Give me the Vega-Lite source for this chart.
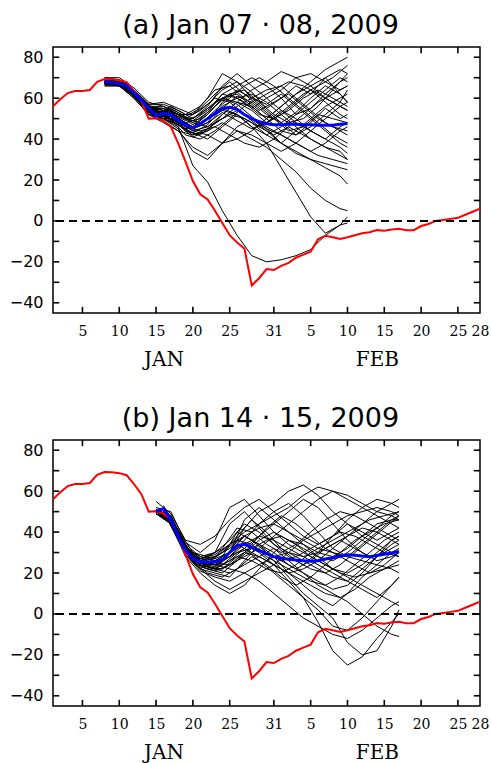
{
"$schema": "https://vega.github.io/schema/vega-lite/v6.json",
"padding": {"left": 8, "top": 11, "right": 4, "bottom": 4},
"spacing": 34,
"config": {
  "view": {"stroke": "black", "strokeWidth": 1.5},
  "axis": {"grid": false, "domain": false, "labelColor": "black"}
},
"datasets": {
"xt": [{"t":5},{"t":10},{"t":15},{"t":20},{"t":25},{"t":31},{"t":36},{"t":41},{"t":46},{"t":51},{"t":56}],
"yt": [{"t":-40},{"t":-30},{"t":-20},{"t":-10},{"t":0},{"t":10},{"t":20},{"t":30},{"t":40},{"t":50},{"t":60},{"t":70},{"t":80}],
"obs": [{"d":1,"v":56},{"d":2,"v":59.5},{"d":3,"v":62.5},{"d":4,"v":63.5},{"d":5,"v":63.5},{"d":6,"v":64},{"d":7,"v":68},{"d":8,"v":69.3},{"d":9,"v":69.2},{"d":10,"v":68.8},{"d":11,"v":67.8},{"d":12,"v":63.5},{"d":13,"v":58.5},{"d":14,"v":50},{"d":15,"v":50.2},{"d":16,"v":49},{"d":17,"v":46},{"d":18,"v":38},{"d":19,"v":29},{"d":20,"v":19.5},{"d":21,"v":13},{"d":22,"v":10.5},{"d":23,"v":5},{"d":24,"v":-1},{"d":25,"v":-7},{"d":26,"v":-10.5},{"d":27,"v":-13.5},{"d":28,"v":-31.5},{"d":29,"v":-28},{"d":30,"v":-23.5},{"d":31,"v":-24},{"d":32,"v":-22},{"d":33,"v":-20.5},{"d":34,"v":-18},{"d":35,"v":-16.5},{"d":36,"v":-15},{"d":37,"v":-9},{"d":38,"v":-7.3},{"d":39,"v":-8},{"d":40,"v":-8.8},{"d":41,"v":-8},{"d":42,"v":-7},{"d":43,"v":-6},{"d":44,"v":-5.5},{"d":45,"v":-4.5},{"d":46,"v":-4.8},{"d":47,"v":-4.2},{"d":48,"v":-3.8},{"d":49,"v":-4.5},{"d":50,"v":-4.5},{"d":51,"v":-2.5},{"d":52,"v":-1.5},{"d":53,"v":0},{"d":54,"v":0.5},{"d":55,"v":1},{"d":56,"v":1.5},{"d":57,"v":3},{"d":58,"v":4.5},{"d":59,"v":6}],
"meanA": [{"d":8,"v":68},{"d":9,"v":67.5},{"d":10,"v":67.2},{"d":11,"v":66},{"d":12,"v":62.5},{"d":13,"v":59},{"d":14,"v":55},{"d":15,"v":51.5},{"d":16,"v":52.5},{"d":17,"v":52},{"d":18,"v":49},{"d":19,"v":47},{"d":20,"v":45.5},{"d":21,"v":47.5},{"d":22,"v":50},{"d":23,"v":52.5},{"d":24,"v":55},{"d":25,"v":55.5},{"d":26,"v":54.5},{"d":27,"v":52},{"d":28,"v":50},{"d":29,"v":48.5},{"d":30,"v":47.5},{"d":31,"v":47},{"d":32,"v":47},{"d":33,"v":47.3},{"d":34,"v":47.2},{"d":35,"v":47},{"d":36,"v":47},{"d":37,"v":46.8},{"d":38,"v":46.8},{"d":39,"v":46.8},{"d":40,"v":47.2},{"d":41,"v":47.6}],
"meanB": [{"d":15,"v":50},{"d":16,"v":51.5},{"d":17,"v":46},{"d":18,"v":38},{"d":19,"v":31},{"d":20,"v":27},{"d":21,"v":25.5},{"d":22,"v":25.2},{"d":23,"v":25.5},{"d":24,"v":26.5},{"d":25,"v":30},{"d":26,"v":33.5},{"d":27,"v":34},{"d":28,"v":32.5},{"d":29,"v":31},{"d":30,"v":29.5},{"d":31,"v":28},{"d":32,"v":27.3},{"d":33,"v":26.7},{"d":34,"v":26.3},{"d":35,"v":26},{"d":36,"v":25.7},{"d":37,"v":26},{"d":38,"v":26.8},{"d":39,"v":27.5},{"d":40,"v":28.2},{"d":41,"v":28.9},{"d":42,"v":28.7},{"d":43,"v":28.3},{"d":44,"v":28},{"d":45,"v":28.5},{"d":46,"v":29.2},{"d":47,"v":29.8},{"d":48,"v":30.5}],
"zero": [{"z":0}],
"ensA": [
{"m":1,"d":8,"v":69},{"m":1,"d":10,"v":69},{"m":1,"d":12,"v":64},{"m":1,"d":14,"v":57},{"m":1,"d":16,"v":58},{"m":1,"d":18,"v":55},{"m":1,"d":20,"v":52},{"m":1,"d":22,"v":57},{"m":1,"d":24,"v":64},{"m":1,"d":26,"v":68},{"m":1,"d":28,"v":63},{"m":1,"d":30,"v":55},{"m":1,"d":32,"v":60},{"m":1,"d":34,"v":66},{"m":1,"d":36,"v":62},{"m":1,"d":38,"v":70},{"m":1,"d":40,"v":74},{"m":1,"d":41,"v":72},
{"m":2,"d":8,"v":67},{"m":2,"d":10,"v":67},{"m":2,"d":12,"v":61},{"m":2,"d":14,"v":53},{"m":2,"d":16,"v":50},{"m":2,"d":18,"v":47},{"m":2,"d":20,"v":41},{"m":2,"d":22,"v":44},{"m":2,"d":24,"v":52},{"m":2,"d":26,"v":58},{"m":2,"d":28,"v":56},{"m":2,"d":30,"v":50},{"m":2,"d":32,"v":44},{"m":2,"d":34,"v":42},{"m":2,"d":36,"v":48},{"m":2,"d":38,"v":55},{"m":2,"d":40,"v":50},{"m":2,"d":41,"v":52},
{"m":3,"d":8,"v":68},{"m":3,"d":10,"v":68},{"m":3,"d":12,"v":63},{"m":3,"d":14,"v":56},{"m":3,"d":16,"v":54},{"m":3,"d":18,"v":50},{"m":3,"d":20,"v":45},{"m":3,"d":22,"v":48},{"m":3,"d":24,"v":58},{"m":3,"d":26,"v":64},{"m":3,"d":28,"v":60},{"m":3,"d":30,"v":57},{"m":3,"d":32,"v":62},{"m":3,"d":34,"v":56},{"m":3,"d":36,"v":50},{"m":3,"d":38,"v":44},{"m":3,"d":40,"v":38},{"m":3,"d":41,"v":36},
{"m":4,"d":8,"v":70},{"m":4,"d":10,"v":70},{"m":4,"d":12,"v":65},{"m":4,"d":14,"v":58},{"m":4,"d":16,"v":56},{"m":4,"d":18,"v":52},{"m":4,"d":20,"v":49},{"m":4,"d":22,"v":54},{"m":4,"d":24,"v":62},{"m":4,"d":26,"v":66},{"m":4,"d":28,"v":70},{"m":4,"d":30,"v":66},{"m":4,"d":32,"v":60},{"m":4,"d":34,"v":52},{"m":4,"d":36,"v":55},{"m":4,"d":38,"v":62},{"m":4,"d":40,"v":68},{"m":4,"d":41,"v":70},
{"m":5,"d":8,"v":68},{"m":5,"d":10,"v":67},{"m":5,"d":12,"v":62},{"m":5,"d":14,"v":54},{"m":5,"d":16,"v":52},{"m":5,"d":18,"v":47},{"m":5,"d":20,"v":43},{"m":5,"d":22,"v":47},{"m":5,"d":24,"v":55},{"m":5,"d":26,"v":61},{"m":5,"d":28,"v":58},{"m":5,"d":30,"v":52},{"m":5,"d":32,"v":48},{"m":5,"d":34,"v":53},{"m":5,"d":36,"v":60},{"m":5,"d":38,"v":66},{"m":5,"d":40,"v":62},{"m":5,"d":41,"v":58},
{"m":6,"d":8,"v":66},{"m":6,"d":10,"v":66},{"m":6,"d":12,"v":60},{"m":6,"d":14,"v":52},{"m":6,"d":16,"v":50},{"m":6,"d":18,"v":45},{"m":6,"d":20,"v":34},{"m":6,"d":22,"v":30},{"m":6,"d":24,"v":38},{"m":6,"d":26,"v":46},{"m":6,"d":28,"v":50},{"m":6,"d":30,"v":45},{"m":6,"d":32,"v":38},{"m":6,"d":34,"v":33},{"m":6,"d":36,"v":30},{"m":6,"d":38,"v":28},{"m":6,"d":40,"v":26},{"m":6,"d":41,"v":25},
{"m":7,"d":8,"v":69},{"m":7,"d":10,"v":68},{"m":7,"d":12,"v":63},{"m":7,"d":14,"v":55},{"m":7,"d":16,"v":53},{"m":7,"d":18,"v":51},{"m":7,"d":20,"v":50},{"m":7,"d":22,"v":55},{"m":7,"d":24,"v":60},{"m":7,"d":26,"v":58},{"m":7,"d":28,"v":54},{"m":7,"d":30,"v":48},{"m":7,"d":32,"v":52},{"m":7,"d":34,"v":58},{"m":7,"d":36,"v":64},{"m":7,"d":38,"v":58},{"m":7,"d":40,"v":52},{"m":7,"d":41,"v":50},
{"m":8,"d":8,"v":67},{"m":8,"d":10,"v":66},{"m":8,"d":12,"v":61},{"m":8,"d":14,"v":54},{"m":8,"d":16,"v":49},{"m":8,"d":18,"v":44},{"m":8,"d":20,"v":36},{"m":8,"d":22,"v":32},{"m":8,"d":24,"v":38},{"m":8,"d":26,"v":44},{"m":8,"d":28,"v":42},{"m":8,"d":30,"v":38},{"m":8,"d":32,"v":34},{"m":8,"d":34,"v":38},{"m":8,"d":36,"v":44},{"m":8,"d":38,"v":50},{"m":8,"d":40,"v":56},{"m":8,"d":41,"v":58},
{"m":9,"d":8,"v":68},{"m":9,"d":10,"v":68},{"m":9,"d":12,"v":63},{"m":9,"d":14,"v":55},{"m":9,"d":16,"v":55},{"m":9,"d":18,"v":52},{"m":9,"d":20,"v":47},{"m":9,"d":22,"v":52},{"m":9,"d":24,"v":60},{"m":9,"d":26,"v":57},{"m":9,"d":28,"v":51},{"m":9,"d":30,"v":45},{"m":9,"d":32,"v":42},{"m":9,"d":34,"v":38},{"m":9,"d":36,"v":34},{"m":9,"d":38,"v":38},{"m":9,"d":40,"v":44},{"m":9,"d":41,"v":46},
{"m":10,"d":8,"v":69},{"m":10,"d":10,"v":68},{"m":10,"d":12,"v":64},{"m":10,"d":14,"v":57},{"m":10,"d":16,"v":57},{"m":10,"d":18,"v":54},{"m":10,"d":20,"v":50},{"m":10,"d":22,"v":56},{"m":10,"d":24,"v":66},{"m":10,"d":26,"v":72},{"m":10,"d":28,"v":66},{"m":10,"d":30,"v":60},{"m":10,"d":32,"v":54},{"m":10,"d":34,"v":48},{"m":10,"d":36,"v":44},{"m":10,"d":38,"v":40},{"m":10,"d":40,"v":36},{"m":10,"d":41,"v":33},
{"m":11,"d":8,"v":67},{"m":11,"d":10,"v":67},{"m":11,"d":12,"v":62},{"m":11,"d":14,"v":53},{"m":11,"d":16,"v":51},{"m":11,"d":18,"v":49},{"m":11,"d":20,"v":44},{"m":11,"d":22,"v":46},{"m":11,"d":24,"v":50},{"m":11,"d":26,"v":54},{"m":11,"d":28,"v":50},{"m":11,"d":30,"v":44},{"m":11,"d":32,"v":38},{"m":11,"d":34,"v":34},{"m":11,"d":36,"v":30},{"m":11,"d":38,"v":26},{"m":11,"d":40,"v":22},{"m":11,"d":41,"v":18},
{"m":12,"d":8,"v":68},{"m":12,"d":10,"v":68},{"m":12,"d":12,"v":62},{"m":12,"d":14,"v":55},{"m":12,"d":16,"v":52},{"m":12,"d":18,"v":48},{"m":12,"d":20,"v":46},{"m":12,"d":22,"v":50},{"m":12,"d":24,"v":54},{"m":12,"d":26,"v":52},{"m":12,"d":28,"v":46},{"m":12,"d":30,"v":42},{"m":12,"d":32,"v":46},{"m":12,"d":34,"v":52},{"m":12,"d":36,"v":58},{"m":12,"d":38,"v":64},{"m":12,"d":40,"v":70},{"m":12,"d":41,"v":68},
{"m":13,"d":8,"v":70},{"m":13,"d":10,"v":69},{"m":13,"d":12,"v":64},{"m":13,"d":14,"v":56},{"m":13,"d":16,"v":54},{"m":13,"d":18,"v":50},{"m":13,"d":20,"v":46},{"m":13,"d":22,"v":52},{"m":13,"d":24,"v":60},{"m":13,"d":26,"v":62},{"m":13,"d":28,"v":56},{"m":13,"d":30,"v":50},{"m":13,"d":32,"v":56},{"m":13,"d":34,"v":62},{"m":13,"d":36,"v":66},{"m":13,"d":38,"v":70},{"m":13,"d":40,"v":62},{"m":13,"d":41,"v":58},
{"m":14,"d":8,"v":67},{"m":14,"d":10,"v":67},{"m":14,"d":12,"v":61},{"m":14,"d":14,"v":52},{"m":14,"d":16,"v":48},{"m":14,"d":18,"v":44},{"m":14,"d":20,"v":42},{"m":14,"d":22,"v":45},{"m":14,"d":24,"v":50},{"m":14,"d":26,"v":56},{"m":14,"d":28,"v":60},{"m":14,"d":30,"v":64},{"m":14,"d":32,"v":66},{"m":14,"d":34,"v":60},{"m":14,"d":36,"v":54},{"m":14,"d":38,"v":48},{"m":14,"d":40,"v":44},{"m":14,"d":41,"v":42},
{"m":15,"d":8,"v":68},{"m":15,"d":10,"v":67},{"m":15,"d":12,"v":62},{"m":15,"d":14,"v":54},{"m":15,"d":16,"v":53},{"m":15,"d":18,"v":50},{"m":15,"d":20,"v":46},{"m":15,"d":22,"v":50},{"m":15,"d":24,"v":56},{"m":15,"d":26,"v":60},{"m":15,"d":28,"v":62},{"m":15,"d":30,"v":58},{"m":15,"d":32,"v":52},{"m":15,"d":34,"v":46},{"m":15,"d":36,"v":40},{"m":15,"d":38,"v":36},{"m":15,"d":40,"v":34},{"m":15,"d":41,"v":30},
{"m":16,"d":8,"v":69},{"m":16,"d":10,"v":69},{"m":16,"d":12,"v":64},{"m":16,"d":14,"v":56},{"m":16,"d":16,"v":55},{"m":16,"d":18,"v":52},{"m":16,"d":20,"v":48},{"m":16,"d":22,"v":46},{"m":16,"d":24,"v":52},{"m":16,"d":26,"v":58},{"m":16,"d":28,"v":64},{"m":16,"d":30,"v":68},{"m":16,"d":32,"v":73},{"m":16,"d":34,"v":70},{"m":16,"d":36,"v":66},{"m":16,"d":38,"v":60},{"m":16,"d":40,"v":56},{"m":16,"d":41,"v":54},
{"m":17,"d":8,"v":68},{"m":17,"d":10,"v":68},{"m":17,"d":12,"v":62},{"m":17,"d":14,"v":54},{"m":17,"d":16,"v":50},{"m":17,"d":18,"v":47},{"m":17,"d":20,"v":43},{"m":17,"d":22,"v":40},{"m":17,"d":24,"v":46},{"m":17,"d":26,"v":52},{"m":17,"d":28,"v":48},{"m":17,"d":30,"v":42},{"m":17,"d":32,"v":38},{"m":17,"d":34,"v":44},{"m":17,"d":36,"v":50},{"m":17,"d":38,"v":56},{"m":17,"d":40,"v":60},{"m":17,"d":41,"v":62},
{"m":18,"d":8,"v":66},{"m":18,"d":10,"v":66},{"m":18,"d":12,"v":60},{"m":18,"d":14,"v":52},{"m":18,"d":16,"v":51},{"m":18,"d":18,"v":49},{"m":18,"d":20,"v":45},{"m":18,"d":22,"v":48},{"m":18,"d":24,"v":53},{"m":18,"d":26,"v":49},{"m":18,"d":28,"v":45},{"m":18,"d":30,"v":48},{"m":18,"d":32,"v":54},{"m":18,"d":34,"v":50},{"m":18,"d":36,"v":44},{"m":18,"d":38,"v":40},{"m":18,"d":40,"v":46},{"m":18,"d":41,"v":48},
{"m":19,"d":8,"v":69},{"m":19,"d":10,"v":68},{"m":19,"d":12,"v":63},{"m":19,"d":14,"v":55},{"m":19,"d":16,"v":54},{"m":19,"d":18,"v":52},{"m":19,"d":20,"v":52},{"m":19,"d":22,"v":60},{"m":19,"d":24,"v":72},{"m":19,"d":26,"v":68},{"m":19,"d":28,"v":60},{"m":19,"d":30,"v":54},{"m":19,"d":32,"v":48},{"m":19,"d":34,"v":42},{"m":19,"d":36,"v":46},{"m":19,"d":38,"v":52},{"m":19,"d":40,"v":58},{"m":19,"d":41,"v":64},
{"m":20,"d":8,"v":68},{"m":20,"d":10,"v":67},{"m":20,"d":12,"v":62},{"m":20,"d":14,"v":55},{"m":20,"d":16,"v":52},{"m":20,"d":18,"v":48},{"m":20,"d":20,"v":44},{"m":20,"d":22,"v":42},{"m":20,"d":24,"v":38},{"m":20,"d":26,"v":40},{"m":20,"d":28,"v":44},{"m":20,"d":30,"v":50},{"m":20,"d":32,"v":56},{"m":20,"d":34,"v":62},{"m":20,"d":36,"v":68},{"m":20,"d":38,"v":74},{"m":20,"d":40,"v":78},{"m":20,"d":41,"v":80},
{"m":21,"d":8,"v":68},{"m":21,"d":10,"v":67},{"m":21,"d":12,"v":62},{"m":21,"d":14,"v":54},{"m":21,"d":16,"v":50},{"m":21,"d":18,"v":46},{"m":21,"d":20,"v":27},{"m":21,"d":22,"v":19},{"m":21,"d":24,"v":5},{"m":21,"d":26,"v":-7},{"m":21,"d":28,"v":-17},{"m":21,"d":30,"v":-20},{"m":21,"d":32,"v":-19},{"m":21,"d":34,"v":-17},{"m":21,"d":36,"v":-14},{"m":21,"d":38,"v":-7},{"m":21,"d":40,"v":-2},{"m":21,"d":41,"v":-1},
{"m":22,"d":8,"v":68},{"m":22,"d":10,"v":67},{"m":22,"d":12,"v":62},{"m":22,"d":14,"v":55},{"m":22,"d":16,"v":52},{"m":22,"d":18,"v":48},{"m":22,"d":20,"v":46},{"m":22,"d":22,"v":50},{"m":22,"d":24,"v":55},{"m":22,"d":26,"v":52},{"m":22,"d":28,"v":46},{"m":22,"d":30,"v":38},{"m":22,"d":32,"v":26},{"m":22,"d":34,"v":14},{"m":22,"d":36,"v":2},{"m":22,"d":38,"v":-6},{"m":22,"d":40,"v":-2},{"m":22,"d":41,"v":2},
{"m":23,"d":8,"v":67},{"m":23,"d":10,"v":66},{"m":23,"d":12,"v":61},{"m":23,"d":14,"v":53},{"m":23,"d":16,"v":51},{"m":23,"d":18,"v":47},{"m":23,"d":20,"v":42},{"m":23,"d":22,"v":44},{"m":23,"d":24,"v":48},{"m":23,"d":26,"v":44},{"m":23,"d":28,"v":40},{"m":23,"d":30,"v":36},{"m":23,"d":32,"v":30},{"m":23,"d":34,"v":24},{"m":23,"d":36,"v":16},{"m":23,"d":38,"v":10},{"m":23,"d":40,"v":6},{"m":23,"d":41,"v":5},
{"m":24,"d":8,"v":69},{"m":24,"d":10,"v":68},{"m":24,"d":12,"v":63},{"m":24,"d":14,"v":56},{"m":24,"d":16,"v":56},{"m":24,"d":18,"v":53},{"m":24,"d":20,"v":48},{"m":24,"d":22,"v":53},{"m":24,"d":24,"v":62},{"m":24,"d":26,"v":60},{"m":24,"d":28,"v":55},{"m":24,"d":30,"v":60},{"m":24,"d":32,"v":64},{"m":24,"d":34,"v":70},{"m":24,"d":36,"v":72},{"m":24,"d":38,"v":68},{"m":24,"d":40,"v":64},{"m":24,"d":41,"v":66},
{"m":25,"d":8,"v":68},{"m":25,"d":9,"v":68},{"m":25,"d":11,"v":66},{"m":25,"d":13,"v":58},{"m":25,"d":15,"v":50},{"m":25,"d":17,"v":53},{"m":25,"d":19,"v":48},{"m":25,"d":21,"v":50},{"m":25,"d":23,"v":56},{"m":25,"d":25,"v":62},{"m":25,"d":27,"v":58},{"m":25,"d":29,"v":52},{"m":25,"d":31,"v":50},{"m":25,"d":33,"v":54},{"m":25,"d":35,"v":60},{"m":25,"d":37,"v":64},{"m":25,"d":39,"v":60},{"m":25,"d":41,"v":56},
{"m":26,"d":8,"v":67},{"m":26,"d":9,"v":67},{"m":26,"d":11,"v":65},{"m":26,"d":13,"v":57},{"m":26,"d":15,"v":52},{"m":26,"d":17,"v":56},{"m":26,"d":19,"v":52},{"m":26,"d":21,"v":56},{"m":26,"d":23,"v":64},{"m":26,"d":25,"v":66},{"m":26,"d":27,"v":60},{"m":26,"d":29,"v":54},{"m":26,"d":31,"v":58},{"m":26,"d":33,"v":62},{"m":26,"d":35,"v":56},{"m":26,"d":37,"v":50},{"m":26,"d":39,"v":46},{"m":26,"d":41,"v":44},
{"m":27,"d":8,"v":69},{"m":27,"d":9,"v":68},{"m":27,"d":11,"v":67},{"m":27,"d":13,"v":60},{"m":27,"d":15,"v":53},{"m":27,"d":17,"v":51},{"m":27,"d":19,"v":44},{"m":27,"d":21,"v":42},{"m":27,"d":23,"v":48},{"m":27,"d":25,"v":52},{"m":27,"d":27,"v":50},{"m":27,"d":29,"v":46},{"m":27,"d":31,"v":42},{"m":27,"d":33,"v":46},{"m":27,"d":35,"v":52},{"m":27,"d":37,"v":58},{"m":27,"d":39,"v":62},{"m":27,"d":41,"v":66},
{"m":28,"d":8,"v":68},{"m":28,"d":9,"v":67},{"m":28,"d":11,"v":66},{"m":28,"d":13,"v":59},{"m":28,"d":15,"v":52},{"m":28,"d":17,"v":54},{"m":28,"d":19,"v":50},{"m":28,"d":21,"v":54},{"m":28,"d":23,"v":60},{"m":28,"d":25,"v":58},{"m":28,"d":27,"v":52},{"m":28,"d":29,"v":48},{"m":28,"d":31,"v":44},{"m":28,"d":33,"v":40},{"m":28,"d":35,"v":36},{"m":28,"d":37,"v":32},{"m":28,"d":39,"v":30},{"m":28,"d":41,"v":28},
{"m":29,"d":8,"v":68},{"m":29,"d":9,"v":68},{"m":29,"d":11,"v":66},{"m":29,"d":13,"v":58},{"m":29,"d":15,"v":50},{"m":29,"d":17,"v":50},{"m":29,"d":19,"v":42},{"m":29,"d":21,"v":40},{"m":29,"d":23,"v":44},{"m":29,"d":25,"v":50},{"m":29,"d":27,"v":56},{"m":29,"d":29,"v":60},{"m":29,"d":31,"v":64},{"m":29,"d":33,"v":68},{"m":29,"d":35,"v":66},{"m":29,"d":37,"v":62},{"m":29,"d":39,"v":58},{"m":29,"d":41,"v":54},
{"m":30,"d":8,"v":67},{"m":30,"d":9,"v":67},{"m":30,"d":11,"v":65},{"m":30,"d":13,"v":57},{"m":30,"d":15,"v":51},{"m":30,"d":17,"v":53},{"m":30,"d":19,"v":49},{"m":30,"d":21,"v":52},{"m":30,"d":23,"v":58},{"m":30,"d":25,"v":62},{"m":30,"d":27,"v":64},{"m":30,"d":29,"v":58},{"m":30,"d":31,"v":52},{"m":30,"d":33,"v":48},{"m":30,"d":35,"v":50},{"m":30,"d":37,"v":56},{"m":30,"d":39,"v":64},{"m":30,"d":41,"v":72},
{"m":31,"d":8,"v":69},{"m":31,"d":9,"v":69},{"m":31,"d":11,"v":67},{"m":31,"d":13,"v":60},{"m":31,"d":15,"v":54},{"m":31,"d":17,"v":52},{"m":31,"d":19,"v":46},{"m":31,"d":21,"v":44},{"m":31,"d":23,"v":46},{"m":31,"d":25,"v":42},{"m":31,"d":27,"v":38},{"m":31,"d":29,"v":36},{"m":31,"d":31,"v":40},{"m":31,"d":33,"v":46},{"m":31,"d":35,"v":42},{"m":31,"d":37,"v":38},{"m":31,"d":39,"v":34},{"m":31,"d":41,"v":30},
{"m":32,"d":8,"v":68},{"m":32,"d":9,"v":68},{"m":32,"d":11,"v":66},{"m":32,"d":13,"v":59},{"m":32,"d":15,"v":52},{"m":32,"d":17,"v":55},{"m":32,"d":19,"v":51},{"m":32,"d":21,"v":55},{"m":32,"d":23,"v":62},{"m":32,"d":25,"v":68},{"m":32,"d":27,"v":62},{"m":32,"d":29,"v":56},{"m":32,"d":31,"v":50},{"m":32,"d":33,"v":44},{"m":32,"d":35,"v":46},{"m":32,"d":37,"v":52},{"m":32,"d":39,"v":50},{"m":32,"d":41,"v":48},
{"m":33,"d":8,"v":68},{"m":33,"d":9,"v":67},{"m":33,"d":11,"v":65},{"m":33,"d":13,"v":58},{"m":33,"d":15,"v":51},{"m":33,"d":17,"v":51},{"m":33,"d":19,"v":45},{"m":33,"d":21,"v":47},{"m":33,"d":23,"v":54},{"m":33,"d":25,"v":60},{"m":33,"d":27,"v":66},{"m":33,"d":29,"v":70},{"m":33,"d":31,"v":66},{"m":33,"d":33,"v":60},{"m":33,"d":35,"v":54},{"m":33,"d":37,"v":48},{"m":33,"d":39,"v":42},{"m":33,"d":41,"v":38},
{"m":34,"d":8,"v":69},{"m":34,"d":9,"v":68},{"m":34,"d":11,"v":66},{"m":34,"d":13,"v":59},{"m":34,"d":15,"v":53},{"m":34,"d":17,"v":54},{"m":34,"d":19,"v":50},{"m":34,"d":21,"v":48},{"m":34,"d":23,"v":52},{"m":34,"d":25,"v":56},{"m":34,"d":27,"v":52},{"m":34,"d":29,"v":46},{"m":34,"d":31,"v":50},{"m":34,"d":33,"v":56},{"m":34,"d":35,"v":62},{"m":34,"d":37,"v":66},{"m":34,"d":39,"v":70},{"m":34,"d":41,"v":76}
],
"ensB": [
{"m":1,"d":15,"v":50},{"m":1,"d":17,"v":47},{"m":1,"d":19,"v":33},{"m":1,"d":21,"v":27},{"m":1,"d":23,"v":30},{"m":1,"d":25,"v":44},{"m":1,"d":27,"v":50},{"m":1,"d":29,"v":42},{"m":1,"d":31,"v":34},{"m":1,"d":33,"v":28},{"m":1,"d":35,"v":24},{"m":1,"d":37,"v":30},{"m":1,"d":39,"v":38},{"m":1,"d":41,"v":44},{"m":1,"d":43,"v":40},{"m":1,"d":45,"v":36},{"m":1,"d":47,"v":40},{"m":1,"d":48,"v":42},
{"m":2,"d":15,"v":49},{"m":2,"d":17,"v":45},{"m":2,"d":19,"v":30},{"m":2,"d":21,"v":24},{"m":2,"d":23,"v":22},{"m":2,"d":25,"v":26},{"m":2,"d":27,"v":32},{"m":2,"d":29,"v":38},{"m":2,"d":31,"v":44},{"m":2,"d":33,"v":50},{"m":2,"d":35,"v":56},{"m":2,"d":37,"v":52},{"m":2,"d":39,"v":44},{"m":2,"d":41,"v":36},{"m":2,"d":43,"v":30},{"m":2,"d":45,"v":26},{"m":2,"d":47,"v":28},{"m":2,"d":48,"v":30},
{"m":3,"d":15,"v":51},{"m":3,"d":17,"v":48},{"m":3,"d":19,"v":34},{"m":3,"d":21,"v":28},{"m":3,"d":23,"v":26},{"m":3,"d":25,"v":30},{"m":3,"d":27,"v":38},{"m":3,"d":29,"v":34},{"m":3,"d":31,"v":28},{"m":3,"d":33,"v":20},{"m":3,"d":35,"v":14},{"m":3,"d":37,"v":8},{"m":3,"d":39,"v":4},{"m":3,"d":41,"v":10},{"m":3,"d":43,"v":18},{"m":3,"d":45,"v":24},{"m":3,"d":47,"v":30},{"m":3,"d":48,"v":32},
{"m":4,"d":15,"v":50},{"m":4,"d":17,"v":46},{"m":4,"d":19,"v":31},{"m":4,"d":21,"v":25},{"m":4,"d":23,"v":23},{"m":4,"d":25,"v":28},{"m":4,"d":27,"v":36},{"m":4,"d":29,"v":44},{"m":4,"d":31,"v":50},{"m":4,"d":33,"v":54},{"m":4,"d":35,"v":48},{"m":4,"d":37,"v":40},{"m":4,"d":39,"v":32},{"m":4,"d":41,"v":28},{"m":4,"d":43,"v":34},{"m":4,"d":45,"v":40},{"m":4,"d":47,"v":46},{"m":4,"d":48,"v":48},
{"m":5,"d":15,"v":49},{"m":5,"d":17,"v":44},{"m":5,"d":19,"v":29},{"m":5,"d":21,"v":22},{"m":5,"d":23,"v":20},{"m":5,"d":25,"v":18},{"m":5,"d":27,"v":26},{"m":5,"d":29,"v":34},{"m":5,"d":31,"v":30},{"m":5,"d":33,"v":24},{"m":5,"d":35,"v":20},{"m":5,"d":37,"v":16},{"m":5,"d":39,"v":12},{"m":5,"d":41,"v":14},{"m":5,"d":43,"v":20},{"m":5,"d":45,"v":28},{"m":5,"d":47,"v":36},{"m":5,"d":48,"v":38},
{"m":6,"d":15,"v":52},{"m":6,"d":17,"v":50},{"m":6,"d":19,"v":35},{"m":6,"d":21,"v":30},{"m":6,"d":23,"v":36},{"m":6,"d":25,"v":52},{"m":6,"d":27,"v":56},{"m":6,"d":29,"v":48},{"m":6,"d":31,"v":40},{"m":6,"d":33,"v":34},{"m":6,"d":35,"v":30},{"m":6,"d":37,"v":26},{"m":6,"d":39,"v":22},{"m":6,"d":41,"v":20},{"m":6,"d":43,"v":24},{"m":6,"d":45,"v":30},{"m":6,"d":47,"v":36},{"m":6,"d":48,"v":38},
{"m":7,"d":15,"v":50},{"m":7,"d":17,"v":47},{"m":7,"d":19,"v":32},{"m":7,"d":21,"v":26},{"m":7,"d":23,"v":24},{"m":7,"d":25,"v":22},{"m":7,"d":27,"v":20},{"m":7,"d":29,"v":16},{"m":7,"d":31,"v":10},{"m":7,"d":33,"v":4},{"m":7,"d":35,"v":-2},{"m":7,"d":37,"v":-6},{"m":7,"d":39,"v":-10},{"m":7,"d":41,"v":-12},{"m":7,"d":43,"v":-8},{"m":7,"d":45,"v":-2},{"m":7,"d":47,"v":4},{"m":7,"d":48,"v":6},
{"m":8,"d":15,"v":49},{"m":8,"d":17,"v":45},{"m":8,"d":19,"v":30},{"m":8,"d":21,"v":23},{"m":8,"d":23,"v":21},{"m":8,"d":25,"v":24},{"m":8,"d":27,"v":30},{"m":8,"d":29,"v":36},{"m":8,"d":31,"v":40},{"m":8,"d":33,"v":36},{"m":8,"d":35,"v":32},{"m":8,"d":37,"v":28},{"m":8,"d":39,"v":26},{"m":8,"d":41,"v":30},{"m":8,"d":43,"v":36},{"m":8,"d":45,"v":42},{"m":8,"d":47,"v":48},{"m":8,"d":48,"v":50},
{"m":9,"d":15,"v":50},{"m":9,"d":17,"v":46},{"m":9,"d":19,"v":31},{"m":9,"d":21,"v":27},{"m":9,"d":23,"v":29},{"m":9,"d":25,"v":34},{"m":9,"d":27,"v":40},{"m":9,"d":29,"v":44},{"m":9,"d":31,"v":48},{"m":9,"d":33,"v":52},{"m":9,"d":35,"v":58},{"m":9,"d":37,"v":62},{"m":9,"d":39,"v":60},{"m":9,"d":41,"v":56},{"m":9,"d":43,"v":52},{"m":9,"d":45,"v":48},{"m":9,"d":47,"v":44},{"m":9,"d":48,"v":42},
{"m":10,"d":15,"v":51},{"m":10,"d":17,"v":47},{"m":10,"d":19,"v":33},{"m":10,"d":21,"v":25},{"m":10,"d":23,"v":22},{"m":10,"d":25,"v":20},{"m":10,"d":27,"v":24},{"m":10,"d":29,"v":28},{"m":10,"d":31,"v":32},{"m":10,"d":33,"v":26},{"m":10,"d":35,"v":20},{"m":10,"d":37,"v":14},{"m":10,"d":39,"v":10},{"m":10,"d":41,"v":6},{"m":10,"d":43,"v":0},{"m":10,"d":45,"v":-6},{"m":10,"d":47,"v":-10},{"m":10,"d":48,"v":-11},
{"m":11,"d":15,"v":50},{"m":11,"d":17,"v":45},{"m":11,"d":19,"v":29},{"m":11,"d":21,"v":21},{"m":11,"d":23,"v":18},{"m":11,"d":25,"v":16},{"m":11,"d":27,"v":20},{"m":11,"d":29,"v":24},{"m":11,"d":31,"v":28},{"m":11,"d":33,"v":30},{"m":11,"d":35,"v":26},{"m":11,"d":37,"v":22},{"m":11,"d":39,"v":18},{"m":11,"d":41,"v":16},{"m":11,"d":43,"v":22},{"m":11,"d":45,"v":28},{"m":11,"d":47,"v":34},{"m":11,"d":48,"v":36},
{"m":12,"d":15,"v":55},{"m":12,"d":17,"v":49},{"m":12,"d":19,"v":36},{"m":12,"d":21,"v":34},{"m":12,"d":23,"v":38},{"m":12,"d":25,"v":46},{"m":12,"d":27,"v":52},{"m":12,"d":29,"v":56},{"m":12,"d":31,"v":50},{"m":12,"d":33,"v":44},{"m":12,"d":35,"v":38},{"m":12,"d":37,"v":34},{"m":12,"d":39,"v":38},{"m":12,"d":41,"v":46},{"m":12,"d":43,"v":52},{"m":12,"d":45,"v":56},{"m":12,"d":47,"v":54},{"m":12,"d":48,"v":52},
{"m":13,"d":15,"v":49},{"m":13,"d":17,"v":46},{"m":13,"d":19,"v":31},{"m":13,"d":21,"v":26},{"m":13,"d":23,"v":28},{"m":13,"d":25,"v":32},{"m":13,"d":27,"v":38},{"m":13,"d":29,"v":34},{"m":13,"d":31,"v":26},{"m":13,"d":33,"v":18},{"m":13,"d":35,"v":10},{"m":13,"d":37,"v":4},{"m":13,"d":39,"v":-2},{"m":13,"d":41,"v":-14},{"m":13,"d":43,"v":-20},{"m":13,"d":45,"v":-18},{"m":13,"d":47,"v":-6},{"m":13,"d":48,"v":2},
{"m":14,"d":15,"v":50},{"m":14,"d":17,"v":46},{"m":14,"d":19,"v":32},{"m":14,"d":21,"v":24},{"m":14,"d":23,"v":22},{"m":14,"d":25,"v":26},{"m":14,"d":27,"v":30},{"m":14,"d":29,"v":28},{"m":14,"d":31,"v":24},{"m":14,"d":33,"v":20},{"m":14,"d":35,"v":22},{"m":14,"d":37,"v":26},{"m":14,"d":39,"v":32},{"m":14,"d":41,"v":38},{"m":14,"d":43,"v":44},{"m":14,"d":45,"v":50},{"m":14,"d":47,"v":54},{"m":14,"d":48,"v":56},
{"m":15,"d":15,"v":51},{"m":15,"d":17,"v":47},{"m":15,"d":19,"v":31},{"m":15,"d":21,"v":26},{"m":15,"d":23,"v":27},{"m":15,"d":25,"v":30},{"m":15,"d":27,"v":34},{"m":15,"d":29,"v":30},{"m":15,"d":31,"v":24},{"m":15,"d":33,"v":16},{"m":15,"d":35,"v":8},{"m":15,"d":37,"v":-4},{"m":15,"d":39,"v":-18},{"m":15,"d":41,"v":-25},{"m":15,"d":43,"v":-21},{"m":15,"d":45,"v":-12},{"m":15,"d":47,"v":-4},{"m":15,"d":48,"v":0},
{"m":16,"d":15,"v":50},{"m":16,"d":17,"v":46},{"m":16,"d":19,"v":31},{"m":16,"d":21,"v":25},{"m":16,"d":23,"v":24},{"m":16,"d":25,"v":30},{"m":16,"d":27,"v":42},{"m":16,"d":29,"v":50},{"m":16,"d":31,"v":54},{"m":16,"d":33,"v":60},{"m":16,"d":35,"v":63},{"m":16,"d":37,"v":58},{"m":16,"d":39,"v":50},{"m":16,"d":41,"v":44},{"m":16,"d":43,"v":38},{"m":16,"d":45,"v":34},{"m":16,"d":47,"v":30},{"m":16,"d":48,"v":28},
{"m":17,"d":15,"v":49},{"m":17,"d":17,"v":44},{"m":17,"d":19,"v":28},{"m":17,"d":21,"v":20},{"m":17,"d":23,"v":14},{"m":17,"d":25,"v":10},{"m":17,"d":27,"v":14},{"m":17,"d":29,"v":22},{"m":17,"d":31,"v":30},{"m":17,"d":33,"v":36},{"m":17,"d":35,"v":34},{"m":17,"d":37,"v":28},{"m":17,"d":39,"v":22},{"m":17,"d":41,"v":18},{"m":17,"d":43,"v":14},{"m":17,"d":45,"v":10},{"m":17,"d":47,"v":6},{"m":17,"d":48,"v":4},
{"m":18,"d":15,"v":50},{"m":18,"d":17,"v":47},{"m":18,"d":19,"v":32},{"m":18,"d":21,"v":28},{"m":18,"d":23,"v":30},{"m":18,"d":25,"v":36},{"m":18,"d":27,"v":44},{"m":18,"d":29,"v":40},{"m":18,"d":31,"v":34},{"m":18,"d":33,"v":30},{"m":18,"d":35,"v":28},{"m":18,"d":37,"v":30},{"m":18,"d":39,"v":34},{"m":18,"d":41,"v":38},{"m":18,"d":43,"v":42},{"m":18,"d":45,"v":40},{"m":18,"d":47,"v":36},{"m":18,"d":48,"v":34},
{"m":19,"d":15,"v":51},{"m":19,"d":17,"v":48},{"m":19,"d":19,"v":33},{"m":19,"d":21,"v":26},{"m":19,"d":23,"v":24},{"m":19,"d":25,"v":28},{"m":19,"d":27,"v":34},{"m":19,"d":29,"v":38},{"m":19,"d":31,"v":36},{"m":19,"d":33,"v":32},{"m":19,"d":35,"v":28},{"m":19,"d":37,"v":24},{"m":19,"d":39,"v":20},{"m":19,"d":41,"v":16},{"m":19,"d":43,"v":12},{"m":19,"d":45,"v":8},{"m":19,"d":47,"v":14},{"m":19,"d":48,"v":18},
{"m":20,"d":15,"v":50},{"m":20,"d":17,"v":46},{"m":20,"d":19,"v":31},{"m":20,"d":21,"v":24},{"m":20,"d":23,"v":22},{"m":20,"d":25,"v":30},{"m":20,"d":27,"v":46},{"m":20,"d":29,"v":52},{"m":20,"d":31,"v":46},{"m":20,"d":33,"v":40},{"m":20,"d":35,"v":34},{"m":20,"d":37,"v":30},{"m":20,"d":39,"v":28},{"m":20,"d":41,"v":32},{"m":20,"d":43,"v":38},{"m":20,"d":45,"v":44},{"m":20,"d":47,"v":46},{"m":20,"d":48,"v":46},
{"m":21,"d":15,"v":49},{"m":21,"d":17,"v":45},{"m":21,"d":19,"v":30},{"m":21,"d":21,"v":25},{"m":21,"d":23,"v":26},{"m":21,"d":25,"v":28},{"m":21,"d":27,"v":32},{"m":21,"d":29,"v":26},{"m":21,"d":31,"v":20},{"m":21,"d":33,"v":14},{"m":21,"d":35,"v":8},{"m":21,"d":37,"v":2},{"m":21,"d":39,"v":-6},{"m":21,"d":41,"v":-8},{"m":21,"d":43,"v":-2},{"m":21,"d":45,"v":6},{"m":21,"d":47,"v":14},{"m":21,"d":48,"v":18},
{"m":22,"d":15,"v":50},{"m":22,"d":17,"v":47},{"m":22,"d":19,"v":33},{"m":22,"d":21,"v":27},{"m":22,"d":23,"v":28},{"m":22,"d":25,"v":34},{"m":22,"d":27,"v":38},{"m":22,"d":29,"v":42},{"m":22,"d":31,"v":44},{"m":22,"d":33,"v":40},{"m":22,"d":35,"v":36},{"m":22,"d":37,"v":32},{"m":22,"d":39,"v":30},{"m":22,"d":41,"v":28},{"m":22,"d":43,"v":26},{"m":22,"d":45,"v":24},{"m":22,"d":47,"v":22},{"m":22,"d":48,"v":20},
{"m":23,"d":15,"v":51},{"m":23,"d":17,"v":46},{"m":23,"d":19,"v":32},{"m":23,"d":21,"v":26},{"m":23,"d":23,"v":25},{"m":23,"d":25,"v":24},{"m":23,"d":27,"v":28},{"m":23,"d":29,"v":32},{"m":23,"d":31,"v":38},{"m":23,"d":33,"v":44},{"m":23,"d":35,"v":50},{"m":23,"d":37,"v":56},{"m":23,"d":39,"v":60},{"m":23,"d":41,"v":58},{"m":23,"d":43,"v":54},{"m":23,"d":45,"v":50},{"m":23,"d":47,"v":48},{"m":23,"d":48,"v":46},
{"m":24,"d":15,"v":50},{"m":24,"d":17,"v":46},{"m":24,"d":19,"v":30},{"m":24,"d":21,"v":22},{"m":24,"d":23,"v":16},{"m":24,"d":25,"v":12},{"m":24,"d":27,"v":16},{"m":24,"d":29,"v":20},{"m":24,"d":31,"v":24},{"m":24,"d":33,"v":30},{"m":24,"d":35,"v":36},{"m":24,"d":37,"v":40},{"m":24,"d":39,"v":44},{"m":24,"d":41,"v":48},{"m":24,"d":43,"v":50},{"m":24,"d":45,"v":52},{"m":24,"d":47,"v":50},{"m":24,"d":48,"v":48},
{"m":25,"d":16,"v":51},{"m":25,"d":18,"v":40},{"m":25,"d":20,"v":28},{"m":25,"d":22,"v":24},{"m":25,"d":24,"v":28},{"m":25,"d":26,"v":40},{"m":25,"d":28,"v":36},{"m":25,"d":30,"v":30},{"m":25,"d":32,"v":26},{"m":25,"d":34,"v":22},{"m":25,"d":36,"v":26},{"m":25,"d":38,"v":32},{"m":25,"d":40,"v":36},{"m":25,"d":42,"v":32},{"m":25,"d":44,"v":28},{"m":25,"d":46,"v":30},{"m":25,"d":48,"v":34},
{"m":26,"d":16,"v":52},{"m":26,"d":18,"v":38},{"m":26,"d":20,"v":26},{"m":26,"d":22,"v":22},{"m":26,"d":24,"v":20},{"m":26,"d":26,"v":26},{"m":26,"d":28,"v":34},{"m":26,"d":30,"v":42},{"m":26,"d":32,"v":48},{"m":26,"d":34,"v":44},{"m":26,"d":36,"v":38},{"m":26,"d":38,"v":32},{"m":26,"d":40,"v":28},{"m":26,"d":42,"v":24},{"m":26,"d":44,"v":20},{"m":26,"d":46,"v":24},{"m":26,"d":48,"v":30},
{"m":27,"d":16,"v":50},{"m":27,"d":18,"v":37},{"m":27,"d":20,"v":25},{"m":27,"d":22,"v":20},{"m":27,"d":24,"v":18},{"m":27,"d":26,"v":22},{"m":27,"d":28,"v":28},{"m":27,"d":30,"v":24},{"m":27,"d":32,"v":18},{"m":27,"d":34,"v":14},{"m":27,"d":36,"v":18},{"m":27,"d":38,"v":24},{"m":27,"d":40,"v":30},{"m":27,"d":42,"v":36},{"m":27,"d":44,"v":40},{"m":27,"d":46,"v":44},{"m":27,"d":48,"v":46},
{"m":28,"d":16,"v":53},{"m":28,"d":18,"v":41},{"m":28,"d":20,"v":30},{"m":28,"d":22,"v":28},{"m":28,"d":24,"v":32},{"m":28,"d":26,"v":42},{"m":28,"d":28,"v":40},{"m":28,"d":30,"v":34},{"m":28,"d":32,"v":30},{"m":28,"d":34,"v":34},{"m":28,"d":36,"v":40},{"m":28,"d":38,"v":46},{"m":28,"d":40,"v":50},{"m":28,"d":42,"v":48},{"m":28,"d":44,"v":44},{"m":28,"d":46,"v":40},{"m":28,"d":48,"v":36},
{"m":29,"d":16,"v":51},{"m":29,"d":18,"v":38},{"m":29,"d":20,"v":27},{"m":29,"d":22,"v":24},{"m":29,"d":24,"v":26},{"m":29,"d":26,"v":34},{"m":29,"d":28,"v":30},{"m":29,"d":30,"v":26},{"m":29,"d":32,"v":22},{"m":29,"d":34,"v":18},{"m":29,"d":36,"v":14},{"m":29,"d":38,"v":10},{"m":29,"d":40,"v":8},{"m":29,"d":42,"v":12},{"m":29,"d":44,"v":18},{"m":29,"d":46,"v":22},{"m":29,"d":48,"v":26},
{"m":30,"d":16,"v":52},{"m":30,"d":18,"v":39},{"m":30,"d":20,"v":28},{"m":30,"d":22,"v":26},{"m":30,"d":24,"v":30},{"m":30,"d":26,"v":38},{"m":30,"d":28,"v":46},{"m":30,"d":30,"v":40},{"m":30,"d":32,"v":32},{"m":30,"d":34,"v":26},{"m":30,"d":36,"v":22},{"m":30,"d":38,"v":20},{"m":30,"d":40,"v":24},{"m":30,"d":42,"v":30},{"m":30,"d":44,"v":36},{"m":30,"d":46,"v":42},{"m":30,"d":48,"v":48},
{"m":31,"d":16,"v":50},{"m":31,"d":18,"v":36},{"m":31,"d":20,"v":25},{"m":31,"d":22,"v":22},{"m":31,"d":24,"v":22},{"m":31,"d":26,"v":28},{"m":31,"d":28,"v":26},{"m":31,"d":30,"v":22},{"m":31,"d":32,"v":20},{"m":31,"d":34,"v":24},{"m":31,"d":36,"v":30},{"m":31,"d":38,"v":34},{"m":31,"d":40,"v":38},{"m":31,"d":42,"v":42},{"m":31,"d":44,"v":46},{"m":31,"d":46,"v":48},{"m":31,"d":48,"v":50},
{"m":32,"d":16,"v":51},{"m":32,"d":18,"v":38},{"m":32,"d":20,"v":26},{"m":32,"d":22,"v":24},{"m":32,"d":24,"v":24},{"m":32,"d":26,"v":30},{"m":32,"d":28,"v":32},{"m":32,"d":30,"v":36},{"m":32,"d":32,"v":38},{"m":32,"d":34,"v":34},{"m":32,"d":36,"v":28},{"m":32,"d":38,"v":24},{"m":32,"d":40,"v":20},{"m":32,"d":42,"v":18},{"m":32,"d":44,"v":20},{"m":32,"d":46,"v":22},{"m":32,"d":48,"v":24},
{"m":33,"d":16,"v":52},{"m":33,"d":18,"v":39},{"m":33,"d":20,"v":27},{"m":33,"d":22,"v":23},{"m":33,"d":24,"v":22},{"m":33,"d":26,"v":26},{"m":33,"d":28,"v":32},{"m":33,"d":30,"v":30},{"m":33,"d":32,"v":26},{"m":33,"d":34,"v":28},{"m":33,"d":36,"v":32},{"m":33,"d":38,"v":36},{"m":33,"d":40,"v":40},{"m":33,"d":42,"v":38},{"m":33,"d":44,"v":34},{"m":33,"d":46,"v":30},{"m":33,"d":48,"v":28},
{"m":34,"d":16,"v":51},{"m":34,"d":18,"v":37},{"m":34,"d":20,"v":26},{"m":34,"d":22,"v":25},{"m":34,"d":24,"v":30},{"m":34,"d":26,"v":36},{"m":34,"d":28,"v":34},{"m":34,"d":30,"v":28},{"m":34,"d":32,"v":24},{"m":34,"d":34,"v":20},{"m":34,"d":36,"v":16},{"m":34,"d":38,"v":14},{"m":34,"d":40,"v":18},{"m":34,"d":42,"v":24},{"m":34,"d":44,"v":30},{"m":34,"d":46,"v":36},{"m":34,"d":48,"v":40}
]
},
"vconcat": [
{
  "title": {"text": "(a) Jan 07 · 08, 2009", "fontSize": 27, "font": "DejaVu Sans", "fontWeight": "normal", "color": "black", "anchor": "middle", "frame": "group", "offset": 7, "dx": -6},
  "width": 427, "height": 266,
  "layer": [
    {"data": {"name": "xt"}, "mark": {"type": "rule", "color": "black", "strokeWidth": 1.6, "clip": true},
     "encoding": {"x": {"field": "t", "type": "quantitative", "scale": {"domain": [1, 59], "nice": false, "zero": false}, "axis": null},
                  "y": {"datum": -45, "type": "quantitative", "scale": {"domain": [-45, 85], "nice": false, "zero": false}, "axis": null},
                  "y2": {"datum": -42}}},
    {"data": {"name": "xt"}, "mark": {"type": "rule", "color": "black", "strokeWidth": 1.6, "clip": true},
     "encoding": {"x": {"field": "t", "type": "quantitative", "scale": {"domain": [1, 59], "nice": false, "zero": false}, "axis": null},
                  "y": {"datum": 85, "type": "quantitative", "scale": {"domain": [-45, 85], "nice": false, "zero": false}, "axis": null},
                  "y2": {"datum": 82}}},
    {"data": {"name": "yt"}, "mark": {"type": "rule", "color": "black", "strokeWidth": 1.6, "clip": true},
     "encoding": {"y": {"field": "t", "type": "quantitative", "scale": {"domain": [-45, 85], "nice": false, "zero": false}, "axis": null},
                  "x": {"datum": 1, "type": "quantitative", "scale": {"domain": [1, 59], "nice": false, "zero": false}, "axis": null},
                  "x2": {"datum": 1.85}}},
    {"data": {"name": "yt"}, "mark": {"type": "rule", "color": "black", "strokeWidth": 1.6, "clip": true},
     "encoding": {"y": {"field": "t", "type": "quantitative", "scale": {"domain": [-45, 85], "nice": false, "zero": false}, "axis": null},
                  "x": {"datum": 59, "type": "quantitative", "scale": {"domain": [1, 59], "nice": false, "zero": false}, "axis": null},
                  "x2": {"datum": 58.15}}},
    {"data": {"name": "ensA"}, "mark": {"type": "line", "color": "black", "strokeWidth": 1},
     "encoding": {
       "x": {"field": "d", "type": "quantitative", "scale": {"domain": [1, 59], "nice": false, "zero": false},
             "axis": {"orient": "bottom", "title": null, "ticks": false, "values": [5,10,15,20,25,31,36,41,46,51,56,59], "labelExpr": "datum.value > 31 ? datum.value - 31 : datum.value", "labelPadding": 11, "labelFont": "DejaVu Serif", "labelFontSize": 14, "labelOverlap": false, "labelFlush": false}},
       "y": {"field": "v", "type": "quantitative", "scale": {"domain": [-45, 85], "nice": false, "zero": false},
             "axis": {"orient": "left", "title": null, "ticks": false, "values": [-40,-30,-20,-10,0,10,20,30,40,50,60,70,80], "labelExpr": "datum.value % 20 == 0 ? datum.label : ''", "labelPadding": 10, "labelFont": "DejaVu Sans", "labelFontSize": 16}},
       "detail": {"field": "m", "type": "nominal"}}},
    {"data": {"name": "obs"}, "mark": {"type": "line", "color": "#ff0000", "strokeWidth": 2},
     "encoding": {
       "x": {"field": "d", "type": "quantitative", "scale": {"domain": [1, 59], "nice": false, "zero": false}, "axis": null},
       "y": {"field": "v", "type": "quantitative", "scale": {"domain": [-45, 85], "nice": false, "zero": false}, "axis": null}}},
    {"data": {"name": "meanA"}, "mark": {"type": "line", "color": "#0000ff", "strokeWidth": 3},
     "encoding": {
       "x": {"field": "d", "type": "quantitative", "scale": {"domain": [1, 59], "nice": false, "zero": false},
             "axis": {"orient": "bottom", "title": null, "values": [16, 45], "labelExpr": "datum.value == 16 ? 'JAN' : 'FEB'", "ticks": false, "offset": 34, "labelPadding": 2, "labelFont": "DejaVu Serif", "labelFontSize": 20}},
       "y": {"field": "v", "type": "quantitative", "scale": {"domain": [-45, 85], "nice": false, "zero": false}, "axis": null}}},
    {"data": {"name": "zero"}, "mark": {"type": "rule", "color": "black", "strokeWidth": 2, "strokeDash": [8, 5]},
     "encoding": {"y": {"field": "z", "type": "quantitative", "scale": {"domain": [-45, 85], "nice": false, "zero": false}, "axis": null}}}
  ],
  "resolve": {"axis": {"x": "independent", "y": "independent"}}
},
{
  "title": {"text": "(b) Jan 14 · 15, 2009", "fontSize": 27, "font": "DejaVu Sans", "fontWeight": "normal", "color": "black", "anchor": "middle", "frame": "group", "offset": 7, "dx": -6},
  "width": 427, "height": 266,
  "layer": [
    {"data": {"name": "xt"}, "mark": {"type": "rule", "color": "black", "strokeWidth": 1.6, "clip": true},
     "encoding": {"x": {"field": "t", "type": "quantitative", "scale": {"domain": [1, 59], "nice": false, "zero": false}, "axis": null},
                  "y": {"datum": -45, "type": "quantitative", "scale": {"domain": [-45, 85], "nice": false, "zero": false}, "axis": null},
                  "y2": {"datum": -42}}},
    {"data": {"name": "xt"}, "mark": {"type": "rule", "color": "black", "strokeWidth": 1.6, "clip": true},
     "encoding": {"x": {"field": "t", "type": "quantitative", "scale": {"domain": [1, 59], "nice": false, "zero": false}, "axis": null},
                  "y": {"datum": 85, "type": "quantitative", "scale": {"domain": [-45, 85], "nice": false, "zero": false}, "axis": null},
                  "y2": {"datum": 82}}},
    {"data": {"name": "yt"}, "mark": {"type": "rule", "color": "black", "strokeWidth": 1.6, "clip": true},
     "encoding": {"y": {"field": "t", "type": "quantitative", "scale": {"domain": [-45, 85], "nice": false, "zero": false}, "axis": null},
                  "x": {"datum": 1, "type": "quantitative", "scale": {"domain": [1, 59], "nice": false, "zero": false}, "axis": null},
                  "x2": {"datum": 1.85}}},
    {"data": {"name": "yt"}, "mark": {"type": "rule", "color": "black", "strokeWidth": 1.6, "clip": true},
     "encoding": {"y": {"field": "t", "type": "quantitative", "scale": {"domain": [-45, 85], "nice": false, "zero": false}, "axis": null},
                  "x": {"datum": 59, "type": "quantitative", "scale": {"domain": [1, 59], "nice": false, "zero": false}, "axis": null},
                  "x2": {"datum": 58.15}}},
    {"data": {"name": "ensB"}, "mark": {"type": "line", "color": "black", "strokeWidth": 1},
     "encoding": {
       "x": {"field": "d", "type": "quantitative", "scale": {"domain": [1, 59], "nice": false, "zero": false},
             "axis": {"orient": "bottom", "title": null, "ticks": false, "values": [5,10,15,20,25,31,36,41,46,51,56,59], "labelExpr": "datum.value > 31 ? datum.value - 31 : datum.value", "labelPadding": 11, "labelFont": "DejaVu Serif", "labelFontSize": 14, "labelOverlap": false, "labelFlush": false}},
       "y": {"field": "v", "type": "quantitative", "scale": {"domain": [-45, 85], "nice": false, "zero": false},
             "axis": {"orient": "left", "title": null, "ticks": false, "values": [-40,-30,-20,-10,0,10,20,30,40,50,60,70,80], "labelExpr": "datum.value % 20 == 0 ? datum.label : ''", "labelPadding": 10, "labelFont": "DejaVu Sans", "labelFontSize": 16}},
       "detail": {"field": "m", "type": "nominal"}}},
    {"data": {"name": "obs"}, "mark": {"type": "line", "color": "#ff0000", "strokeWidth": 2},
     "encoding": {
       "x": {"field": "d", "type": "quantitative", "scale": {"domain": [1, 59], "nice": false, "zero": false}, "axis": null},
       "y": {"field": "v", "type": "quantitative", "scale": {"domain": [-45, 85], "nice": false, "zero": false}, "axis": null}}},
    {"data": {"name": "meanB"}, "mark": {"type": "line", "color": "#0000ff", "strokeWidth": 3},
     "encoding": {
       "x": {"field": "d", "type": "quantitative", "scale": {"domain": [1, 59], "nice": false, "zero": false},
             "axis": {"orient": "bottom", "title": null, "values": [16, 45], "labelExpr": "datum.value == 16 ? 'JAN' : 'FEB'", "ticks": false, "offset": 34, "labelPadding": 2, "labelFont": "DejaVu Serif", "labelFontSize": 20}},
       "y": {"field": "v", "type": "quantitative", "scale": {"domain": [-45, 85], "nice": false, "zero": false}, "axis": null}}},
    {"data": {"name": "zero"}, "mark": {"type": "rule", "color": "black", "strokeWidth": 2, "strokeDash": [8, 5]},
     "encoding": {"y": {"field": "z", "type": "quantitative", "scale": {"domain": [-45, 85], "nice": false, "zero": false}, "axis": null}}}
  ],
  "resolve": {"axis": {"x": "independent", "y": "independent"}}
}
]
}
